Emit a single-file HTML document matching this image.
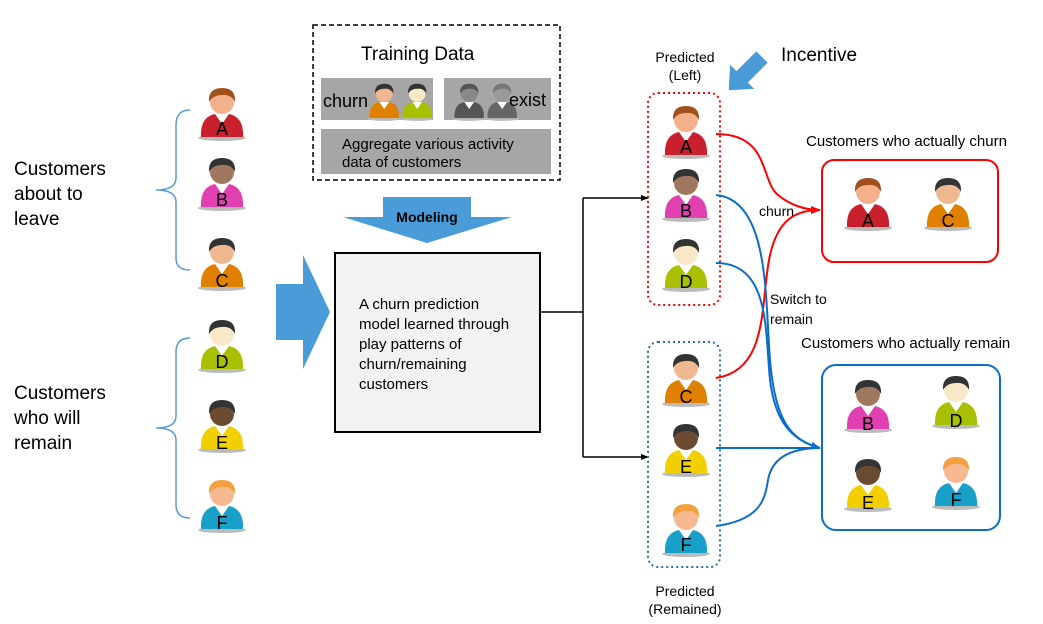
<!DOCTYPE html>
<html><head><meta charset="utf-8"><style>
html,body{margin:0;padding:0;background:#fff;}
svg{display:block;font-family:"Liberation Sans","Noto Sans CJK KR",sans-serif;}
.L{font-size:18px;fill:#000;text-anchor:middle;}
</style></head><body>
<svg width="1043" height="624" viewBox="0 0 1043 624" xmlns="http://www.w3.org/2000/svg">
<defs>
<symbol id="p" viewBox="0 0 52 58" width="52" height="58" overflow="visible">
<ellipse cx="26" cy="54" rx="24" ry="3" fill="#bbb"/>
<path d="M5,53 Q4,33 19,30 L33,30 Q48,33 47,53 Z" fill="currentColor"/>
<path d="M19,30 L26,40 L33,30 Z" fill="#fff"/>
<circle cx="26" cy="18" r="12" style="fill:var(--skin)"/>
<path d="M13,18 Q12,4 26,4 Q40,4 39,18 Q35,10 26,11 Q17,11 13,18Z" style="fill:var(--hair)"/>
</symbol>
<marker id="ak" markerWidth="8" markerHeight="8" refX="7" refY="4" orient="auto" markerUnits="userSpaceOnUse"><path d="M0,1 L8,4 L0,7Z" fill="#000"/></marker>
<marker id="ar" markerWidth="10" markerHeight="10" refX="9" refY="5" orient="auto" markerUnits="userSpaceOnUse"><path d="M0,1 L10,5 L0,9Z" fill="#f00"/></marker>
<marker id="ab" markerWidth="10" markerHeight="10" refX="9" refY="5" orient="auto" markerUnits="userSpaceOnUse"><path d="M0,1 L10,5 L0,9Z" fill="#0a6ec8"/></marker>
</defs>

<text x="14" y="175" font-size="19">Customers</text>
<text x="14" y="200" font-size="19">about to</text>
<text x="14" y="225" font-size="19">leave</text>
<text x="14" y="399" font-size="19">Customers</text>
<text x="14" y="424" font-size="19">who will</text>
<text x="14" y="449" font-size="19">remain</text>

<path d="M190,110 Q176,110 176,125 L176,178 Q176,190 156,190 Q176,190 176,202 L176,258 Q176,270 190,270" fill="none" stroke="#5b9bd5" stroke-width="1.5"/>
<path d="M190,338 Q176,338 176,352 L176,416 Q176,428 156,428 Q176,428 176,440 L176,505 Q176,518 190,518" fill="none" stroke="#5b9bd5" stroke-width="1.5"/>

<g style="--skin:#f4b08a;--hair:#a0501a;color:#c8202c"><use href="#p" x="196" y="84"/></g><text class="L" x="222" y="135">A</text>
<g style="--skin:#a07860;--hair:#333;color:#e040b0"><use href="#p" x="196" y="154"/></g><text class="L" x="222" y="206">B</text>
<g style="--skin:#f0b890;--hair:#333;color:#e08000"><use href="#p" x="196" y="234"/></g><text class="L" x="222" y="287">C</text>
<g style="--skin:#f8e8c8;--hair:#333;color:#a8c000"><use href="#p" x="196" y="316"/></g><text class="L" x="222" y="368">D</text>
<g style="--skin:#6a4a30;--hair:#333;color:#f2d000"><use href="#p" x="196" y="396"/></g><text class="L" x="222" y="449">E</text>
<g style="--skin:#f6b890;--hair:#f4a040;color:#18a0c8"><use href="#p" x="196" y="476"/></g><text class="L" x="222" y="529">F</text>

<path d="M276,284 L303,284 L303,255 L330,312 L303,369 L303,340 L276,340 Z" fill="#4a9cd8"/>

<rect x="313" y="25" width="247" height="155" fill="#fff" stroke="#000" stroke-width="1.5" stroke-dasharray="5,3"/>
<text x="361" y="60" font-size="19">Training Data</text>
<rect x="321" y="78" width="112" height="42" fill="#a6a6a6"/>
<rect x="444" y="78" width="107" height="42" fill="#a6a6a6"/>
<rect x="321" y="129" width="230" height="45" fill="#a6a6a6"/>
<g transform="translate(366,81) scale(0.7)" style="--skin:#f0b890;--hair:#333;color:#e08000"><use href="#p" x="0" y="0"/></g>
<g transform="translate(399,81) scale(0.7)" style="--skin:#f8e8c8;--hair:#333;color:#a8c000"><use href="#p" x="0" y="0"/></g>
<g transform="translate(451,81) scale(0.7)" style="--skin:#888;--hair:#555;color:#555"><use href="#p" x="0" y="0"/></g>
<g transform="translate(484,81) scale(0.7)" style="--skin:#999;--hair:#777;color:#666"><use href="#p" x="0" y="0"/></g>
<text x="323" y="107" font-size="18">churn</text>
<text x="509" y="106" font-size="18">exist</text>
<text x="342" y="149" font-size="15">Aggregate various activity</text>
<text x="342" y="167" font-size="15">data of customers</text>

<path d="M383,197 L471,197 L471,217 L512,217 L427,243 L343,217 L383,217 Z" fill="#4a9cd8"/>
<text x="427" y="222" font-size="14" font-weight="bold" text-anchor="middle">Modeling</text>

<rect x="335" y="253" width="205" height="179" fill="#f2f2f2" stroke="#000" stroke-width="2"/>
<text font-size="15"><tspan x="359" y="309">A churn prediction</tspan><tspan x="359" y="329">model learned through</tspan><tspan x="359" y="349">play patterns of</tspan><tspan x="359" y="369">churn/remaining</tspan><tspan x="359" y="389">customers</tspan></text>

<path d="M540,312 L583,312 M583,198 L583,457" stroke="#000" stroke-width="1.5" fill="none"/>
<path d="M583,198 L648,198" stroke="#000" stroke-width="1.5" marker-end="url(#ak)"/>
<path d="M583,457 L648,457" stroke="#000" stroke-width="1.5" marker-end="url(#ak)"/>

<rect x="648" y="93" width="72" height="212" rx="10" fill="none" stroke="#f00" stroke-width="2" stroke-dasharray="2,3"/>
<rect x="648" y="342" width="72" height="225" rx="10" fill="none" stroke="#2e6ea6" stroke-width="2" stroke-dasharray="2,3"/>
<text x="685" y="62" font-size="14" text-anchor="middle">Predicted</text>
<text x="685" y="80" font-size="14" text-anchor="middle">(Left)</text>
<text x="685" y="596" font-size="14" text-anchor="middle">Predicted</text>
<text x="685" y="614" font-size="14" text-anchor="middle">(Remained)</text>

<!-- incentive arrow pointing down-left -->
<path d="M-24,-8 L4,-8 L4,-17 L23,0 L4,17 L4,8 L-24,8 Z" fill="#4a9cd8" transform="translate(745,74) rotate(135)"/>
<text x="781" y="61" font-size="19">Incentive</text>

<g style="--skin:#f4b08a;--hair:#a0501a;color:#c8202c"><use href="#p" x="660" y="102"/></g><text class="L" x="686" y="153">A</text>
<g style="--skin:#a07860;--hair:#333;color:#e040b0"><use href="#p" x="660" y="165"/></g><text class="L" x="686" y="217">B</text>
<g style="--skin:#f8e8c8;--hair:#333;color:#a8c000"><use href="#p" x="660" y="235"/></g><text class="L" x="686" y="288">D</text>
<g style="--skin:#f0b890;--hair:#333;color:#e08000"><use href="#p" x="660" y="350"/></g><text class="L" x="686" y="403">C</text>
<g style="--skin:#6a4a30;--hair:#333;color:#f2d000"><use href="#p" x="660" y="420"/></g><text class="L" x="686" y="473">E</text>
<g style="--skin:#f6b890;--hair:#f4a040;color:#18a0c8"><use href="#p" x="660" y="500"/></g><text class="L" x="686" y="551">F</text>

<path d="M716,134 C770,134 760,180 778,195 C790,205 805,210 820,210" fill="none" stroke="#f00" stroke-width="2" marker-end="url(#ar)"/>
<path d="M716,378 C770,370 760,300 770,255 C778,220 795,210 820,210" fill="none" stroke="#f00" stroke-width="2"/>
<path d="M716,195 C770,200 765,300 770,360 C775,420 790,440 820,448" fill="none" stroke="#0a6ec8" stroke-width="2" marker-end="url(#ab)"/>
<path d="M716,263 C770,263 765,330 770,380 C775,420 790,440 820,448" fill="none" stroke="#0a6ec8" stroke-width="2"/>
<path d="M716,448 L820,448" fill="none" stroke="#0a6ec8" stroke-width="2"/>
<path d="M716,526 C760,520 765,500 768,480 C772,458 790,448 820,448" fill="none" stroke="#0a6ec8" stroke-width="2"/>
<text x="759" y="216" font-size="14">churn</text>
<text x="770" y="304" font-size="14">Switch to</text>
<text x="770" y="324" font-size="14">remain</text>

<text x="806" y="146" font-size="15">Customers who actually churn</text>
<rect x="822" y="160" width="176" height="102" rx="12" fill="none" stroke="#f00" stroke-width="2"/>
<g style="--skin:#f4b08a;--hair:#a0501a;color:#c8202c"><use href="#p" x="842" y="174"/></g><text class="L" x="868" y="227">A</text>
<g style="--skin:#f0b890;--hair:#333;color:#e08000"><use href="#p" x="922" y="174"/></g><text class="L" x="948" y="227">C</text>

<text x="801" y="348" font-size="15">Customers who actually remain</text>
<rect x="822" y="365" width="178" height="165" rx="14" fill="none" stroke="#0a6ec8" stroke-width="2"/>
<g style="--skin:#a07860;--hair:#333;color:#e040b0"><use href="#p" x="842" y="376"/></g><text class="L" x="868" y="430">B</text>
<g style="--skin:#f8e8c8;--hair:#333;color:#a8c000"><use href="#p" x="930" y="372"/></g><text class="L" x="956" y="427">D</text>
<g style="--skin:#6a4a30;--hair:#333;color:#f2d000"><use href="#p" x="842" y="455"/></g><text class="L" x="868" y="509">E</text>
<g style="--skin:#f6b890;--hair:#f4a040;color:#18a0c8"><use href="#p" x="930" y="453"/></g><text class="L" x="956" y="506">F</text>
</svg>
</body></html>
